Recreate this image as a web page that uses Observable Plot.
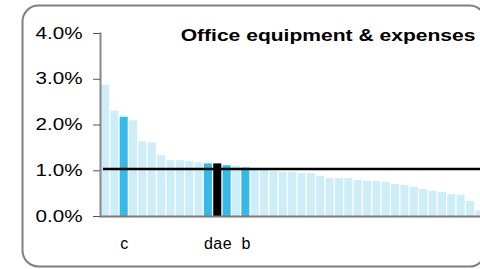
<!DOCTYPE html>
<html><head><meta charset="utf-8">
<script src="https://cdn.jsdelivr.net/npm/d3@7"></script>
<script src="https://cdn.jsdelivr.net/npm/@observablehq/plot@0.6"></script>
<style>
html,body{margin:0;padding:0;background:#fff;overflow:hidden}
svg text{font-family:"Liberation Sans",Arial,sans-serif}
</style></head><body><div id="chart"></div>
<script>
const title = "Office equipment & expenses";
const values = [2.87, 2.30, 2.17, 2.09, 1.63, 1.61, 1.33, 1.22, 1.22, 1.20,
                1.17, 1.15, 1.15, 1.11, 1.10, 1.06, 1.04, 1.02, 0.98, 0.96,
                0.96, 0.94, 0.94, 0.88, 0.83, 0.83, 0.83, 0.79, 0.77, 0.77,
                0.75, 0.70, 0.68, 0.64, 0.59, 0.55, 0.53, 0.48, 0.46, 0.33, 0.12];
const tickLabels = ["", "", "c", "", "", "", "", "", "", "",
                    "", "d", "a", "e", "", "b", "", "", "", "",
                    "", "", "", "", "", "", "", "", "", "",
                    "", "", "", "", "", "", "", "", "", "", ""];
const groups = ["o","o","peer","o","o","o","o","o","o","o",
                "o","peer","self","peer","o","peer","o","o","o","o",
                "o","o","o","o","o","o","o","o","o","o",
                "o","o","o","o","o","o","o","o","o","o","o"];
const benchmark = 1.04;
const yTicks = [0, 1, 2, 3, 4];
const colors = {o: "#cdedf8", peer: "#35b9e9", self: "#000000"};

const data = values.map((v, i) => ({i, v, g: groups[i]}));

const chart = Plot.plot({
  width: 480, height: 269,
  marginLeft: 100, marginRight: 0, marginTop: 33, marginBottom: 53,
  style: {fontFamily: '"Liberation Sans", Arial, sans-serif', fontSize: "16px", color: "#000", background: "#fff", overflow: "hidden"},
  x: {domain: d3.range(values.length), range: [100, 484.3], round: false, paddingInner: 0.14, paddingOuter: 0.1, axis: null},
  y: {domain: [0, 4], axis: null},
  color: {type: "identity"},
  marks: [
    Plot.frame({stroke: "#7f7f7f", strokeWidth: 2, rx: 16, insetLeft: -78, insetTop: -28, insetBottom: -50, insetRight: -5}),
    Plot.barY(data, {x: "i", y: "v", fill: d => colors[d.g], inset: 0}),
    Plot.ruleY([0], {stroke: "#7a7a7a", strokeWidth: 2}),
    Plot.frame({anchor: "left", stroke: "#888", strokeWidth: 2}),
    Plot.axisY({ticks: yTicks, tickSize: 7, tickPadding: 11, tickFormat: d => d.toFixed(1) + "%", stroke: "#555", fontSize: 16, label: null}),
    Plot.axisX({tickSize: 0, tickPadding: 21, tickFormat: i => tickLabels[i], fontSize: 16, label: null}),
    Plot.ruleY([benchmark], {stroke: "#000", strokeWidth: 2.5, insetLeft: 3}),
    Plot.text([title], {frameAnchor: "top-right", dx: -5, dy: 2, fontWeight: "bold", fontSize: 17, textAnchor: "end", lineAnchor: "middle"})
  ]
});
document.getElementById("chart").append(chart);

function stretch(sel, k) {
  chart.querySelectorAll(sel).forEach(t => {
    const tr = t.getAttribute("transform");
    if (tr) t.setAttribute("transform", tr + ` scale(${k},1)`);
    else {
      const x = +(t.getAttribute("x") || 0);
      t.setAttribute("transform", `translate(${x},0) scale(${k},1) translate(${-x},0)`);
    }
  });
}
stretch('g[aria-label="y-axis tick label"] text', 1.29);
stretch('g[aria-label="text"] text', 1.24);
</script></body></html>
